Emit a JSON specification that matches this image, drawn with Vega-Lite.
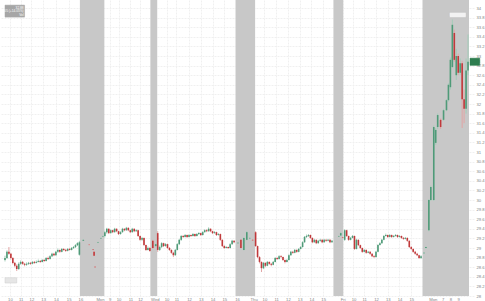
{
  "$schema": "https://vega.github.io/schema/vega-lite/v6.json",
  "width": 474,
  "height": 296,
  "autosize": {"type": "none"},
  "padding": {"left": 0, "top": 0, "right": 11, "bottom": 5},
  "background": "white",
  "config": {
    "view": {"stroke": null},
    "font": "Liberation Sans",
    "axis": {"labelFontSize": 4.2, "labelColor": "#858585", "ticks": false, "domain": false, "gridColor": "#f0f0f0", "gridDash": [2, 1], "labelOverlap": false, "labelSeparation": 0}
  },
  "datasets": {
    "bands": [
      {"s": 76.5, "e": 101.5}, {"s": 148.5, "e": 155.5}, {"s": 235.5, "e": 255.5}, {"s": 335.5, "e": 345.5}, {"s": 426.5, "e": 474}
    ],
    "candles": [
      {"x":0,"o":28.75,"h":28.84,"l":28.72,"c":28.79},
      {"x":2,"o":28.79,"h":28.95,"l":28.77,"c":28.92},
      {"x":4,"o":28.92,"h":29.02,"l":28.86,"c":28.88},
      {"x":6,"o":28.88,"h":28.9,"l":28.76,"c":28.79},
      {"x":8,"o":28.79,"h":28.81,"l":28.66,"c":28.69},
      {"x":10,"o":28.69,"h":28.71,"l":28.6,"c":28.63},
      {"x":12,"o":28.63,"h":28.66,"l":28.52,"c":28.56},
      {"x":14,"o":28.56,"h":28.7,"l":28.55,"c":28.67},
      {"x":16,"o":28.67,"h":28.74,"l":28.65,"c":28.71},
      {"x":18,"o":28.71,"h":28.73,"l":28.65,"c":28.67},
      {"x":20,"o":28.67,"h":28.69,"l":28.62,"c":28.65},
      {"x":22,"o":28.65,"h":28.7,"l":28.63,"c":28.67},
      {"x":24,"o":28.67,"h":28.71,"l":28.65,"c":28.69},
      {"x":26,"o":28.69,"h":28.71,"l":28.65,"c":28.67},
      {"x":28,"o":28.67,"h":28.73,"l":28.66,"c":28.71},
      {"x":30,"o":28.71,"h":28.73,"l":28.67,"c":28.69},
      {"x":32,"o":28.69,"h":28.74,"l":28.68,"c":28.71},
      {"x":34,"o":28.71,"h":28.76,"l":28.7,"c":28.73},
      {"x":36,"o":28.73,"h":28.75,"l":28.69,"c":28.71},
      {"x":38,"o":28.71,"h":28.77,"l":28.7,"c":28.75},
      {"x":40,"o":28.75,"h":28.77,"l":28.71,"c":28.73},
      {"x":42,"o":28.73,"h":28.81,"l":28.72,"c":28.79},
      {"x":44,"o":28.79,"h":28.82,"l":28.75,"c":28.77},
      {"x":46,"o":28.77,"h":28.85,"l":28.76,"c":28.83},
      {"x":48,"o":28.83,"h":28.9,"l":28.81,"c":28.88},
      {"x":50,"o":28.88,"h":28.9,"l":28.83,"c":28.85},
      {"x":52,"o":28.85,"h":28.94,"l":28.84,"c":28.92},
      {"x":54,"o":28.92,"h":28.99,"l":28.9,"c":28.96},
      {"x":56,"o":28.96,"h":28.97,"l":28.9,"c":28.92},
      {"x":58,"o":28.92,"h":29.0,"l":28.91,"c":28.98},
      {"x":60,"o":28.98,"h":29.0,"l":28.94,"c":28.96},
      {"x":62,"o":28.96,"h":28.98,"l":28.92,"c":28.94},
      {"x":64,"o":28.94,"h":29.0,"l":28.93,"c":28.98},
      {"x":66,"o":28.98,"h":29.0,"l":28.95,"c":28.96},
      {"x":68,"o":28.96,"h":29.02,"l":28.95,"c":29.0},
      {"x":70,"o":29.0,"h":29.04,"l":28.98,"c":29.02},
      {"x":72,"o":29.02,"h":29.08,"l":29.0,"c":29.06},
      {"x":74,"o":29.06,"h":29.12,"l":29.04,"c":29.1},
      {"x":76,"o":28.86,"h":29.15,"l":28.84,"c":29.12},
      {"x":80,"o":29.15,"h":29.18,"l":29.15,"c":29.17},
      {"x":86,"o":29.07,"h":29.08,"l":29.05,"c":29.06},
      {"x":90,"o":28.97,"h":28.97,"l":28.95,"c":28.96},
      {"x":91,"o":28.92,"h":28.93,"l":28.83,"c":28.84},
      {"x":92,"o":28.61,"h":28.62,"l":28.59,"c":28.6},
      {"x":95,"o":29.11,"h":29.13,"l":29.1,"c":29.12},
      {"x":98,"o":29.2,"h":29.22,"l":29.2,"c":29.21},
      {"x":100,"o":29.24,"h":29.26,"l":29.23,"c":29.25},
      {"x":102,"o":29.25,"h":29.36,"l":29.22,"c":29.33},
      {"x":104,"o":29.33,"h":29.42,"l":29.3,"c":29.4},
      {"x":106,"o":29.4,"h":29.41,"l":29.29,"c":29.31},
      {"x":108,"o":29.31,"h":29.39,"l":29.3,"c":29.37},
      {"x":110,"o":29.37,"h":29.38,"l":29.31,"c":29.33},
      {"x":112,"o":29.33,"h":29.42,"l":29.32,"c":29.4},
      {"x":114,"o":29.4,"h":29.41,"l":29.33,"c":29.35},
      {"x":116,"o":29.35,"h":29.36,"l":29.27,"c":29.29},
      {"x":118,"o":29.29,"h":29.35,"l":29.28,"c":29.33},
      {"x":120,"o":29.33,"h":29.42,"l":29.32,"c":29.4},
      {"x":122,"o":29.4,"h":29.41,"l":29.35,"c":29.37},
      {"x":124,"o":29.37,"h":29.44,"l":29.36,"c":29.42},
      {"x":126,"o":29.42,"h":29.43,"l":29.35,"c":29.37},
      {"x":128,"o":29.37,"h":29.38,"l":29.31,"c":29.33},
      {"x":130,"o":29.33,"h":29.42,"l":29.32,"c":29.4},
      {"x":132,"o":29.4,"h":29.41,"l":29.33,"c":29.35},
      {"x":134,"o":29.35,"h":29.39,"l":29.34,"c":29.37},
      {"x":136,"o":29.37,"h":29.38,"l":29.23,"c":29.25},
      {"x":138,"o":29.25,"h":29.26,"l":29.15,"c":29.17},
      {"x":140,"o":29.17,"h":29.23,"l":29.15,"c":29.21},
      {"x":142,"o":29.21,"h":29.22,"l":29.04,"c":29.06},
      {"x":144,"o":29.06,"h":29.07,"l":28.94,"c":28.96},
      {"x":146,"o":28.96,"h":29.03,"l":28.95,"c":29.0},
      {"x":148,"o":29.0,"h":29.02,"l":28.92,"c":28.94},
      {"x":151,"o":29.15,"h":29.17,"l":28.98,"c":29.0},
      {"x":154,"o":29.04,"h":29.09,"l":29.03,"c":29.08},
      {"x":156,"o":29.31,"h":29.35,"l":28.92,"c":28.96},
      {"x":158,"o":28.96,"h":29.05,"l":28.94,"c":29.02},
      {"x":160,"o":29.02,"h":29.12,"l":29.0,"c":29.1},
      {"x":162,"o":29.1,"h":29.11,"l":29.02,"c":29.04},
      {"x":164,"o":29.04,"h":29.1,"l":29.03,"c":29.08},
      {"x":166,"o":29.08,"h":29.09,"l":28.98,"c":29.0},
      {"x":168,"o":29.0,"h":29.02,"l":28.94,"c":28.96},
      {"x":170,"o":28.96,"h":28.97,"l":28.88,"c":28.9},
      {"x":172,"o":28.9,"h":28.92,"l":28.81,"c":28.85},
      {"x":174,"o":28.85,"h":28.98,"l":28.84,"c":28.96},
      {"x":176,"o":28.96,"h":29.1,"l":28.95,"c":29.08},
      {"x":178,"o":29.08,"h":29.19,"l":29.06,"c":29.17},
      {"x":180,"o":29.17,"h":29.27,"l":29.15,"c":29.25},
      {"x":182,"o":29.25,"h":29.27,"l":29.21,"c":29.23},
      {"x":184,"o":29.23,"h":29.29,"l":29.22,"c":29.27},
      {"x":186,"o":29.27,"h":29.28,"l":29.21,"c":29.23},
      {"x":188,"o":29.23,"h":29.29,"l":29.22,"c":29.27},
      {"x":190,"o":29.27,"h":29.28,"l":29.23,"c":29.25},
      {"x":192,"o":29.25,"h":29.31,"l":29.24,"c":29.29},
      {"x":194,"o":29.29,"h":29.3,"l":29.23,"c":29.25},
      {"x":196,"o":29.25,"h":29.31,"l":29.24,"c":29.29},
      {"x":198,"o":29.29,"h":29.33,"l":29.27,"c":29.31},
      {"x":200,"o":29.31,"h":29.32,"l":29.25,"c":29.27},
      {"x":202,"o":29.27,"h":29.35,"l":29.26,"c":29.33},
      {"x":204,"o":29.33,"h":29.39,"l":29.32,"c":29.37},
      {"x":206,"o":29.37,"h":29.39,"l":29.33,"c":29.35},
      {"x":208,"o":29.35,"h":29.43,"l":29.34,"c":29.4},
      {"x":210,"o":29.4,"h":29.41,"l":29.33,"c":29.35},
      {"x":212,"o":29.35,"h":29.36,"l":29.29,"c":29.31},
      {"x":214,"o":29.31,"h":29.35,"l":29.3,"c":29.33},
      {"x":216,"o":29.33,"h":29.34,"l":29.25,"c":29.27},
      {"x":218,"o":29.27,"h":29.31,"l":29.26,"c":29.29},
      {"x":220,"o":29.29,"h":29.3,"l":29.15,"c":29.17},
      {"x":222,"o":29.17,"h":29.18,"l":29.02,"c":29.04},
      {"x":224,"o":29.04,"h":29.06,"l":28.98,"c":29.0},
      {"x":226,"o":29.0,"h":29.04,"l":28.99,"c":29.02},
      {"x":228,"o":29.02,"h":29.03,"l":28.98,"c":29.0},
      {"x":230,"o":29.0,"h":29.1,"l":28.99,"c":29.08},
      {"x":232,"o":29.08,"h":29.17,"l":29.07,"c":29.15},
      {"x":234,"o":29.15,"h":29.16,"l":29.1,"c":29.12},
      {"x":238,"o":29.1,"h":29.12,"l":29.09,"c":29.11},
      {"x":241,"o":29.17,"h":29.18,"l":28.99,"c":29.0},
      {"x":244,"o":28.96,"h":29.23,"l":28.95,"c":29.21},
      {"x":247,"o":29.17,"h":29.35,"l":29.16,"c":29.33},
      {"x":250,"o":29.2,"h":29.22,"l":29.19,"c":29.21},
      {"x":253,"o":29.17,"h":29.18,"l":29.15,"c":29.16},
      {"x":256,"o":29.33,"h":29.35,"l":29.02,"c":29.04},
      {"x":258,"o":29.04,"h":29.05,"l":28.79,"c":28.81},
      {"x":260,"o":28.81,"h":28.83,"l":28.68,"c":28.71},
      {"x":262,"o":28.71,"h":28.72,"l":28.5,"c":28.58},
      {"x":264,"o":28.58,"h":28.71,"l":28.56,"c":28.69},
      {"x":266,"o":28.69,"h":28.7,"l":28.6,"c":28.63},
      {"x":268,"o":28.63,"h":28.73,"l":28.62,"c":28.71},
      {"x":270,"o":28.71,"h":28.72,"l":28.65,"c":28.67},
      {"x":272,"o":28.67,"h":28.69,"l":28.62,"c":28.65},
      {"x":274,"o":28.65,"h":28.73,"l":28.64,"c":28.71},
      {"x":276,"o":28.71,"h":28.81,"l":28.7,"c":28.79},
      {"x":278,"o":28.79,"h":28.81,"l":28.75,"c":28.77},
      {"x":280,"o":28.77,"h":28.85,"l":28.76,"c":28.83},
      {"x":282,"o":28.83,"h":28.85,"l":28.79,"c":28.81},
      {"x":284,"o":28.81,"h":28.82,"l":28.73,"c":28.75},
      {"x":286,"o":28.75,"h":28.76,"l":28.68,"c":28.71},
      {"x":288,"o":28.71,"h":28.77,"l":28.7,"c":28.75},
      {"x":290,"o":28.75,"h":28.87,"l":28.74,"c":28.85},
      {"x":292,"o":28.85,"h":28.94,"l":28.84,"c":28.92},
      {"x":294,"o":28.92,"h":28.94,"l":28.88,"c":28.9},
      {"x":296,"o":28.9,"h":28.98,"l":28.89,"c":28.96},
      {"x":298,"o":28.96,"h":28.97,"l":28.9,"c":28.92},
      {"x":300,"o":28.92,"h":29.0,"l":28.91,"c":28.98},
      {"x":302,"o":28.98,"h":29.04,"l":28.97,"c":29.02},
      {"x":304,"o":29.02,"h":29.14,"l":29.01,"c":29.12},
      {"x":306,"o":29.12,"h":29.25,"l":29.11,"c":29.23},
      {"x":308,"o":29.23,"h":29.28,"l":29.21,"c":29.25},
      {"x":310,"o":29.25,"h":29.29,"l":29.23,"c":29.27},
      {"x":312,"o":29.27,"h":29.28,"l":29.19,"c":29.21},
      {"x":314,"o":29.21,"h":29.22,"l":29.1,"c":29.12},
      {"x":316,"o":29.12,"h":29.19,"l":29.11,"c":29.17},
      {"x":318,"o":29.17,"h":29.18,"l":29.08,"c":29.1},
      {"x":320,"o":29.1,"h":29.17,"l":29.09,"c":29.15},
      {"x":322,"o":29.15,"h":29.19,"l":29.13,"c":29.17},
      {"x":324,"o":29.17,"h":29.18,"l":29.1,"c":29.12},
      {"x":326,"o":29.12,"h":29.19,"l":29.11,"c":29.17},
      {"x":328,"o":29.17,"h":29.18,"l":29.13,"c":29.15},
      {"x":330,"o":29.15,"h":29.19,"l":29.14,"c":29.17},
      {"x":332,"o":29.17,"h":29.18,"l":29.1,"c":29.12},
      {"x":334,"o":29.12,"h":29.17,"l":29.11,"c":29.15},
      {"x":341,"o":29.24,"h":29.26,"l":29.23,"c":29.25},
      {"x":343,"o":29.26,"h":29.33,"l":29.25,"c":29.31},
      {"x":345,"o":29.22,"h":29.23,"l":29.2,"c":29.21},
      {"x":347,"o":29.17,"h":29.39,"l":29.15,"c":29.37},
      {"x":349,"o":29.37,"h":29.38,"l":29.23,"c":29.25},
      {"x":351,"o":29.25,"h":29.26,"l":29.15,"c":29.17},
      {"x":353,"o":29.17,"h":29.23,"l":29.16,"c":29.21},
      {"x":355,"o":29.21,"h":29.27,"l":29.2,"c":29.25},
      {"x":357,"o":29.25,"h":29.26,"l":28.96,"c":28.98},
      {"x":359,"o":28.98,"h":29.19,"l":28.97,"c":29.17},
      {"x":361,"o":29.17,"h":29.18,"l":29.04,"c":29.06},
      {"x":363,"o":29.06,"h":29.07,"l":28.98,"c":29.0},
      {"x":365,"o":29.0,"h":29.01,"l":28.9,"c":28.92},
      {"x":367,"o":28.92,"h":28.98,"l":28.91,"c":28.96},
      {"x":369,"o":28.96,"h":28.97,"l":28.88,"c":28.9},
      {"x":371,"o":28.9,"h":28.94,"l":28.89,"c":28.92},
      {"x":373,"o":28.92,"h":28.93,"l":28.86,"c":28.88},
      {"x":375,"o":28.88,"h":28.89,"l":28.81,"c":28.83},
      {"x":377,"o":28.83,"h":28.85,"l":28.79,"c":28.81},
      {"x":379,"o":28.81,"h":28.94,"l":28.8,"c":28.92},
      {"x":381,"o":28.92,"h":29.08,"l":28.91,"c":29.06},
      {"x":383,"o":29.06,"h":29.12,"l":29.05,"c":29.1},
      {"x":385,"o":29.1,"h":29.19,"l":29.09,"c":29.17},
      {"x":387,"o":29.17,"h":29.27,"l":29.16,"c":29.25},
      {"x":389,"o":29.25,"h":29.3,"l":29.24,"c":29.27},
      {"x":391,"o":29.27,"h":29.28,"l":29.21,"c":29.23},
      {"x":393,"o":29.23,"h":29.29,"l":29.22,"c":29.27},
      {"x":395,"o":29.27,"h":29.28,"l":29.21,"c":29.23},
      {"x":397,"o":29.23,"h":29.27,"l":29.22,"c":29.25},
      {"x":399,"o":29.25,"h":29.29,"l":29.24,"c":29.27},
      {"x":401,"o":29.27,"h":29.28,"l":29.21,"c":29.23},
      {"x":403,"o":29.23,"h":29.27,"l":29.22,"c":29.25},
      {"x":405,"o":29.25,"h":29.26,"l":29.19,"c":29.21},
      {"x":407,"o":29.21,"h":29.23,"l":29.17,"c":29.19},
      {"x":409,"o":29.19,"h":29.23,"l":29.18,"c":29.21},
      {"x":411,"o":29.21,"h":29.22,"l":29.13,"c":29.15},
      {"x":413,"o":29.15,"h":29.16,"l":29.0,"c":29.02},
      {"x":415,"o":29.02,"h":29.04,"l":28.96,"c":28.98},
      {"x":417,"o":28.98,"h":28.99,"l":28.9,"c":28.92},
      {"x":419,"o":28.92,"h":28.94,"l":28.86,"c":28.88},
      {"x":421,"o":28.88,"h":28.9,"l":28.83,"c":28.85},
      {"x":423,"o":28.85,"h":28.86,"l":28.77,"c":28.79},
      {"x":425,"o":28.79,"h":28.85,"l":28.77,"c":28.83},
      {"x":428,"o":28.89,"h":28.91,"l":28.88,"c":28.9},
      {"x":430,"o":29.0,"h":29.03,"l":28.99,"c":29.02},
      {"x":433,"o":29.37,"h":30.02,"l":29.35,"c":30.0},
      {"x":435,"o":30.0,"h":30.3,"l":29.98,"c":30.27},
      {"x":438,"o":30.0,"h":31.55,"l":29.98,"c":31.52},
      {"x":440,"o":31.19,"h":31.5,"l":31.15,"c":31.46},
      {"x":442,"o":31.52,"h":31.8,"l":31.48,"c":31.77},
      {"x":445,"o":31.67,"h":31.7,"l":31.48,"c":31.52},
      {"x":448,"o":31.67,"h":31.9,"l":31.65,"c":31.87},
      {"x":451,"o":31.87,"h":32.1,"l":31.85,"c":32.08},
      {"x":453,"o":32.08,"h":32.43,"l":32.05,"c":32.4},
      {"x":455,"o":32.35,"h":32.97,"l":32.3,"c":32.92},
      {"x":457,"o":32.77,"h":33.76,"l":32.75,"c":33.65},
      {"x":459,"o":33.48,"h":33.55,"l":32.88,"c":32.92},
      {"x":461,"o":32.6,"h":33.15,"l":32.5,"c":33.0},
      {"x":463,"o":33.0,"h":33.05,"l":32.6,"c":32.65},
      {"x":465,"o":32.65,"h":32.95,"l":32.6,"c":32.85},
      {"x":467,"o":32.85,"h":32.9,"l":31.5,"c":32.1},
      {"x":469,"o":32.1,"h":32.3,"l":31.6,"c":31.9},
      {"x":471,"o":31.9,"h":32.95,"l":31.8,"c":32.7},
      {"x":473,"o":32.7,"h":33.45,"l":32.6,"c":32.88}
    ],
    "notes": [
      {"x0": 454, "x1": 471, "y0": 33.91, "y1": 33.8, "kind": "hi"},
      {"x0": 0, "x1": 12, "y0": 28.38, "y1": 28.27, "kind": "lo"},
      {"x0": 475, "x1": 485, "y0": 32.955, "y1": 32.805, "kind": "last"},
      {"x0": 0, "x1": 20, "y0": 34.06, "y1": 33.81, "kind": "box"}
    ],
    "labels": [
      {"xm": 462.5, "ym": 33.855, "label": "Hi: 33.76", "kind": "hi"},
      {"xm": 6, "ym": 28.325, "label": "28.42", "kind": "lo"},
      {"xm": 480, "ym": 32.88, "label": "32.88", "kind": "last"}
    ],
    "boxlines": [
      {"xm": 19, "ym": 34.01, "label": "32.88"},
      {"xm": 19, "ym": 33.935, "label": "+4.05 (+14.05%)"},
      {"xm": 19, "ym": 33.86, "label": "Vol"}
    ]
  },
  "layer": [
    {
      "data": {"name": "bands"},
      "mark": {"type": "rect", "color": "#c8c8c8"},
      "encoding": {
        "x": {"field": "s", "type": "quantitative", "scale": {"domain": [0, 474], "nice": false, "zero": false},
          "axis": {"orient": "bottom", "title": null, "grid": true, "labelPadding": 1, "labelBaseline": "top", "labelOverlap": false, "labelFlush": false, "labelSeparation": 0, "tickCount": 200,
            "values": [5,16,27,39,52,65,77,97,107,116,128,138,153,165,175,188,200,212,224,237,254,265,277,289,301,313,325,345,356,367,379,391,403,415,437,447,455,463],
            "labelExpr": "['10','11','12','13','14','15','16','Mon','9','10','11','12','Wed','10','11','12','13','14','15','16','Thu','10','11','12','13','14','15','Fri','10','11','12','13','14','15','Mon','7','8','9'][indexof([5,16,27,39,52,65,77,97,107,116,128,138,153,165,175,188,200,212,224,237,254,265,277,289,301,313,325,345,356,367,379,391,403,415,437,447,455,463], datum.value)]"}},
        "x2": {"field": "e"}
      }
    },
    {
      "data": {"name": "candles"},
      "mark": {"type": "rule", "strokeWidth": 1},
      "encoding": {
        "x": {"field": "x", "type": "quantitative"},
        "y": {"field": "l", "type": "quantitative", "scale": {"domain": [28, 34.1667], "nice": false, "zero": false},
          "axis": {"orient": "right", "title": null, "grid": true, "labelPadding": 2, "format": "~g", "labelOverlap": false, "labelFlush": false, "labelSeparation": 0, "tickCount": 200,
            "values": [28,28.2,28.4,28.6,28.8,29,29.2,29.4,29.6,29.8,30,30.2,30.4,30.6,30.8,31,31.2,31.4,31.6,31.8,32,32.2,32.4,32.6,32.8,33,33.2,33.4,33.6,33.8,34]}},
        "y2": {"field": "h"},
        "color": {"condition": {"test": "datum.c >= datum.o", "value": "#a3cdb9"}, "value": "#e2a5a5"}
      }
    },
    {
      "data": {"name": "candles"},
      "mark": {"type": "bar", "width": 1.6},
      "encoding": {
        "x": {"field": "x", "type": "quantitative"},
        "y": {"field": "o", "type": "quantitative"},
        "y2": {"field": "c"},
        "color": {"condition": {"test": "datum.c >= datum.o", "value": "#4f9a78"}, "value": "#c0393b"}
      }
    },
    {
      "data": {"name": "notes"},
      "mark": {"type": "rect", "clip": false, "strokeWidth": 0.5},
      "encoding": {
        "x": {"field": "x0", "type": "quantitative"},
        "x2": {"field": "x1"},
        "y": {"field": "y0", "type": "quantitative"},
        "y2": {"field": "y1"},
        "color": {"field": "kind", "type": "nominal", "scale": {"domain": ["hi", "lo", "last", "box"], "range": ["#f2f2f2", "#e6e6e6", "#2e7d4f", "#a6a6a6"]}, "legend": null},
        "stroke": {"field": "kind", "type": "nominal", "scale": {"domain": ["hi", "lo", "last", "box"], "range": ["#bdbdbd", "#cfcfcf", "#2e7d4f", "#a6a6a6"]}, "legend": null}
      }
    },
    {
      "data": {"name": "labels"},
      "mark": {"type": "text", "fontSize": 4, "clip": false, "baseline": "middle", "align": "center"},
      "encoding": {
        "x": {"field": "xm", "type": "quantitative"},
        "y": {"field": "ym", "type": "quantitative"},
        "text": {"field": "label"},
        "color": {"field": "kind", "type": "nominal", "scale": {"domain": ["hi", "lo", "last"], "range": ["#555555", "#666666", "#ffffff"]}, "legend": null}
      }
    },
    {
      "data": {"name": "boxlines"},
      "mark": {"type": "text", "fontSize": 3.2, "clip": false, "baseline": "middle", "align": "right", "color": "#ffffff"},
      "encoding": {
        "x": {"field": "xm", "type": "quantitative"},
        "y": {"field": "ym", "type": "quantitative"},
        "text": {"field": "label"}
      }
    }
  ]
}
